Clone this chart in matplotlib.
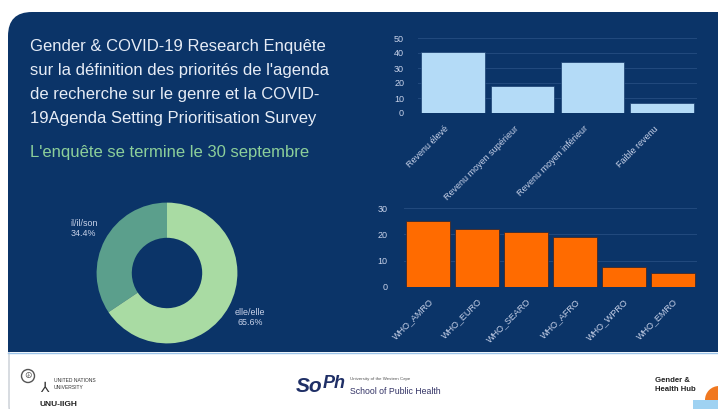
import matplotlib.pyplot as plt
from matplotlib.patches import FancyBboxPatch, Rectangle, Circle, Wedge
import numpy as np

plt.rcParams['font.family'] = ['Liberation Sans', 'DejaVu Sans']

# Revenu des pays
revenu_cats = ['Revenu élevé', 'Revenu moyen supérieur', 'Revenu moyen inférieur', 'Faible revenu']
revenu_vals = [41, 18, 34, 7]

# Régions OMS
region_cats = ['WHO_AMRO', 'WHO_EURO', 'WHO_SEARO', 'WHO_AFRO', 'WHO_WPRO', 'WHO_EMRO']
region_vals = [25, 22, 21, 19, 7.5, 5.5]

# Pronoms
pronom_cats = ['il/il/son', 'elle/elle']
pronom_vals = [34.4, 65.6]

W, H = 718, 409
NAVY = '#0b3468'
TXT = '#c9d3ea'
GRID = '#224a7e'


def box(x0, y0, x1, y1):
    # pixel box (top-left origin) -> figure fraction rect
    return [x0 / W, (H - y1) / H, (x1 - x0) / W, (y1 - y0) / H]


fig = plt.figure(figsize=(W / 100, H / 100), dpi=100)
fig.patch.set_facecolor('white')

bg = fig.add_axes([0, 0, 1, 1])
bg.set_xlim(0, W)
bg.set_ylim(H, 0)
bg.axis('off')

# footer frame + navy panel
bg.add_patch(FancyBboxPatch((9, 300), 760, 120, boxstyle='round,pad=0,rounding_size=14',
                            fc='white', ec='#c8cdd4', lw=1))
bg.add_patch(FancyBboxPatch((8, 12), 760, 330, boxstyle='round,pad=0,rounding_size=24',
                            fc=NAVY, ec='none'))
bg.add_patch(Rectangle((8, 300), 720, 52, fc=NAVY, ec='none'))
bg.plot([8, W], [352.5, 352.5], color='#9cc4ea', lw=1)

# titres
titre = ['Gender & COVID-19 Research Enquête',
         'sur la définition des priorités de l\'agenda',
         'de recherche sur le genre et la COVID-',
         '19Agenda Setting Prioritisation Survey']
for i, line in enumerate(titre):
    bg.text(30, 46 + i * 24, line, color='#e6ecf6', fontsize=12, va='center', ha='left')
bg.text(30, 153, 'L\'enquête se termine le 30 septembre', color='#8ccf9a', fontsize=12,
        va='center', ha='left')

# logos du pied de page (approximation en texte)
bg.add_patch(Circle((28, 376), 6.5, fc='none', ec='#555555', lw=1))
bg.text(28, 376, '☮', fontsize=6, color='#555555', ha='center', va='center')
bg.text(44, 388, '⅄', fontsize=10, color='#333333', ha='center', va='center')
bg.text(54, 384, 'UNITED NATIONS\nUNIVERSITY', fontsize=3.6, color='#333333', va='center',
        linespacing=1.3)
bg.text(40, 404, 'UNU-IIGH', fontsize=6, color='#222222', fontweight='bold', va='center')
bg.text(296, 386, 'So', fontsize=15, color='#1f2f66', fontweight='bold', va='center',
        style='italic')
bg.text(323, 384, 'Ph', fontsize=13, color='#1f2f66', fontweight='bold', va='center',
        style='italic')
bg.text(350, 379, 'University of the Western Cape', fontsize=3.2, color='#555555', va='center')
bg.text(350, 392, 'School of Public Health', fontsize=6.3, color='#333366', va='center')
bg.text(655, 385, 'Gender &\nHealth Hub', fontsize=5.6, color='#222222', fontweight='bold',
        va='center', linespacing=1.5)
bg.add_patch(Wedge((719, 400), 14, 90, 270, fc='#f07820', ec='none'))
bg.add_patch(Rectangle((693, 400), 26, 12, fc='#9fd2f2', ec='none'))


def style_axes(ax):
    ax.set_facecolor('none')
    for s in ax.spines.values():
        s.set_visible(False)
    ax.tick_params(length=0, colors=TXT, labelsize=6.5)
    ax.yaxis.grid(True, color=GRID, lw=0.7)
    ax.set_axisbelow(True)


# barres revenu
ax1 = fig.add_axes(box(418, 38, 697, 113))
x1 = np.arange(len(revenu_cats))
ax1.bar(x1, revenu_vals, width=0.91, color='#b4dbf7', edgecolor='#1a3f70', lw=0.5)
ax1.set_xlim(-0.5, len(revenu_cats) - 0.5)
ax1.set_ylim(0, 50)
ax1.set_yticks(range(0, 51, 10))
ax1.set_xticks(x1 - 0.12)
ax1.set_xticklabels(revenu_cats, rotation=45, ha='right', rotation_mode='anchor')
ax1.tick_params(axis='x', pad=8)
ax1.tick_params(axis='y', pad=10)
style_axes(ax1)

# barres régions
ax2 = fig.add_axes(box(404, 208, 697, 287))
x2 = np.arange(len(region_cats))
ax2.bar(x2, region_vals, width=0.9, color='#ff6b00', edgecolor='#3a2a30', lw=0.6)
ax2.set_xlim(-0.5, len(region_cats) - 0.5)
ax2.set_ylim(0, 30)
ax2.set_yticks([0, 10, 20, 30])
ax2.set_xticks(x2)
ax2.set_xticklabels(region_cats, rotation=45, ha='right', rotation_mode='anchor')
ax2.tick_params(axis='x', pad=7)
ax2.tick_params(axis='y', pad=12)
style_axes(ax2)

# anneau pronoms
ax3 = fig.add_axes(box(87, 193, 247, 353))
ax3.set_facecolor('none')
labels = [f'{c}\n{v}%' for c, v in zip(pronom_cats, pronom_vals)]
wedges, texts = ax3.pie(pronom_vals, labels=labels, startangle=90, counterclock=True,
                        colors=['#5b9f8c', '#a9dba3'], radius=0.88,
                        wedgeprops=dict(width=0.44, edgecolor='none'),
                        labeldistance=1.34, textprops=dict(color=TXT, fontsize=6.4,
                                                           ha='center'))
ax3.set_xlim(-1, 1)
ax3.set_ylim(-1, 1)
ax3.set_aspect('equal')

fig.savefig('out.png', dpi=100, facecolor=fig.get_facecolor())
